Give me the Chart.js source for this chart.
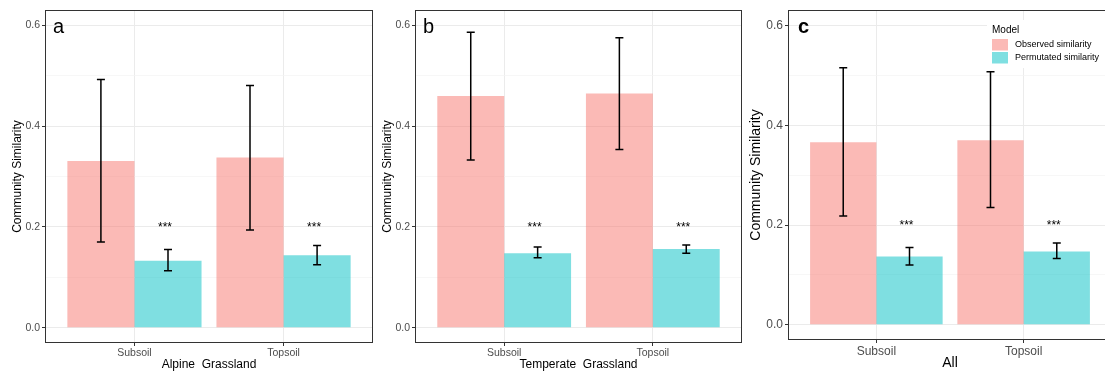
<!DOCTYPE html>
<html>
<head>
<meta charset="utf-8">
<script src="https://cdn.jsdelivr.net/npm/chart.js@4/dist/chart.umd.min.js"></script>
<style>
  body { margin: 0; background: #fff; }
  #wrap { position: relative; width: 1105px; height: 374px; overflow: hidden; }
  .panel { position: absolute; top: 0; }
</style>
</head>
<body>
<div id="wrap">
  <canvas id="pa" class="panel" style="left:0px" width="373" height="374"></canvas>
  <canvas id="pb" class="panel" style="left:370px" width="372" height="374"></canvas>
  <canvas id="pc" class="panel" style="left:740px" width="372" height="374"></canvas>
</div>
<script>
// categories and series
const categories = ['Subsoil', 'Topsoil'];
const seriesNames = ['Observed similarity', 'Permutated similarity'];

// a - Alpine Grassland
const alpineObs = [0.331, 0.338];
const alpineObsLow = [0.170, 0.194];
const alpineObsHigh = [0.493, 0.481];
const alpinePerm = [0.133, 0.144];
const alpinePermLow = [0.113, 0.125];
const alpinePermHigh = [0.155, 0.163];

// b - Temperate Grassland
const temperateObs = [0.460, 0.465];
const temperateObsLow = [0.333, 0.354];
const temperateObsHigh = [0.587, 0.576];
const temperatePerm = [0.148, 0.156];
const temperatePermLow = [0.139, 0.148];
const temperatePermHigh = [0.160, 0.164];

// c - All
const allObs = [0.366, 0.370];
const allObsLow = [0.218, 0.235];
const allObsHigh = [0.515, 0.507];
const allPerm = [0.137, 0.147];
const allPermLow = [0.120, 0.133];
const allPermHigh = [0.155, 0.164];

// significance labels over the permutated bars
const sigLabels = ['***', '***'];
const sigAt = 0.2;

// y axis ticks
const yTickValues = [0, 0.1, 0.2, 0.3, 0.4, 0.5, 0.6];
const yTickLabels = ['0.0', '', '0.2', '', '0.4', '', '0.6'];

Chart.defaults.font.family = '"Liberation Sans", Arial, sans-serif';

const pink = 'rgba(248, 118, 109, 0.5)';
const teal = 'rgba(0, 191, 196, 0.5)';

function isMajor(v) {
  return yTickLabels[yTickValues.indexOf(v)] !== '';
}

// error bars, stars, frame, panel letter and legend
const extras = {
  id: 'extras',
  afterDatasetsDraw(chart, args, opts) {
    const { ctx, chartArea: a, scales: { y } } = chart;
    ctx.save();

    chart.data.datasets.forEach((ds, di) => {
      const meta = chart.getDatasetMeta(di);
      meta.data.forEach((bar, i) => {
        const hi = y.getPixelForValue(ds.errHigh[i]);
        const lo = y.getPixelForValue(ds.errLow[i]);
        ctx.strokeStyle = '#000';
        ctx.lineWidth = 1.5;
        ctx.beginPath();
        ctx.moveTo(bar.x, hi); ctx.lineTo(bar.x, lo);
        ctx.moveTo(bar.x - 4, hi); ctx.lineTo(bar.x + 4, hi);
        ctx.moveTo(bar.x - 4, lo); ctx.lineTo(bar.x + 4, lo);
        ctx.stroke();
        if (ds.stars) {
          ctx.fillStyle = '#000';
          ctx.font = '12px "Liberation Sans", Arial, sans-serif';
          ctx.textAlign = 'center';
          ctx.textBaseline = 'middle';
          ctx.fillText(ds.stars[i], bar.x - 3, y.getPixelForValue(sigAt) + 1);
        }
      });
    });

    // panel frame
    ctx.strokeStyle = '#333';
    ctx.lineWidth = 1;
    ctx.strokeRect(a.left + 0.5, a.top + 0.5, a.width - 1, a.height - 1);

    // panel letter
    ctx.fillStyle = '#000';
    ctx.font = opts.letterFont;
    ctx.textAlign = 'left';
    ctx.textBaseline = 'alphabetic';
    ctx.fillText(opts.letter, a.left + opts.letterDx, 33);

    if (opts.legend) {
      const lx = 252;
      ctx.fillStyle = '#fff';
      ctx.fillRect(247, 20, chart.width - 247, 48);
      ctx.fillStyle = '#000';
      ctx.font = '10px "Liberation Sans", Arial, sans-serif';
      ctx.textBaseline = 'alphabetic';
      ctx.fillText('Model', lx, 32.5);
      ctx.font = '9px "Liberation Sans", Arial, sans-serif';
      ctx.textBaseline = 'middle';
      chart.data.datasets.forEach((ds, di) => {
        const ky = 39 + di * 13;
        ctx.fillStyle = '#fff';
        ctx.fillRect(lx, ky, 16, 11.5);
        ctx.fillStyle = ds.backgroundColor;
        ctx.fillRect(lx, ky, 16, 11.5);
        ctx.fillStyle = '#000';
        ctx.fillText(ds.label, lx + 23, ky + 6);
      });
    }
    ctx.restore();
  }
};

function makePanel(id, p) {
  const pts = arr => arr.map((v, i) => ({ x: i + 1, y: v }));
  new Chart(document.getElementById(id), {
    type: 'bar',
    data: {
      datasets: [
        { label: seriesNames[0], data: pts(p.obs), errLow: p.obsLow, errHigh: p.obsHigh,
          backgroundColor: pink, borderWidth: 0, categoryPercentage: 0.9, barPercentage: 1 },
        { label: seriesNames[1], data: pts(p.perm), errLow: p.permLow, errHigh: p.permHigh, stars: sigLabels,
          backgroundColor: teal, borderWidth: 0, categoryPercentage: 0.9, barPercentage: 1 }
      ]
    },
    options: {
      responsive: false,
      animation: false,
      layout: { padding: { top: 10, left: 0, right: 0, bottom: 0 } },
      plugins: {
        legend: { display: false },
        tooltip: { enabled: false },
        extras: { letter: p.letter, letterDx: p.letterDx, letterFont: p.letterFont, legend: p.legend }
      },
      scales: {
        x: {
          type: 'linear',
          min: 0.4,
          max: 2.6,
          offset: false,
          afterBuildTicks: s => { s.ticks = categories.map((c, i) => ({ value: i + 1 })); },
          afterFit: s => { s.height = p.xh; },
          border: { display: false },
          grid: { offset: false, color: '#ebebeb', lineWidth: 1, tickLength: 3, tickColor: '#333', tickWidth: 1 },
          ticks: {
            callback: v => categories[Math.round(v) - 1],
            color: '#4d4d4d',
            font: { size: p.tickSize },
            padding: 1,
            maxRotation: 0
          },
          title: {
            display: true,
            text: p.xTitle,
            color: '#000',
            font: { size: p.titleSize },
            padding: { top: 0, bottom: 2 }
          }
        },
        y: {
          min: -0.0305,
          max: 0.631,
          afterBuildTicks: s => { s.ticks = yTickValues.map(v => ({ value: v })); },
          afterFit: s => { s.width = p.yw; },
          border: { display: false },
          grid: {
            color: c => isMajor(c.tick.value) ? '#ebebeb' : '#f4f4f4',
            lineWidth: c => isMajor(c.tick.value) ? 1 : 0.7,
            tickLength: 3,
            tickWidth: 1,
            tickColor: c => isMajor(c.tick.value) ? '#333' : 'rgba(0,0,0,0)'
          },
          ticks: {
            callback: v => yTickLabels[yTickValues.indexOf(v)],
            color: '#4d4d4d',
            font: { size: p.tickSize },
            padding: 2
          },
          title: {
            display: true,
            text: 'Community Similarity',
            color: '#000',
            font: { size: p.ySize },
            padding: { top: p.yPad, bottom: 0 }
          }
        }
      }
    },
    plugins: [extras]
  });
}

makePanel('pa', {
  obs: alpineObs, obsLow: alpineObsLow, obsHigh: alpineObsHigh,
  perm: alpinePerm, permLow: alpinePermLow, permHigh: alpinePermHigh,
  xTitle: 'Alpine  Grassland', letter: 'a', letterDx: 8, letterFont: '20px "Liberation Sans", Arial, sans-serif',
  yw: 45, xh: 31, tickSize: 10.5, titleSize: 12, ySize: 12, yPad: 10, legend: false
});

makePanel('pb', {
  obs: temperateObs, obsLow: temperateObsLow, obsHigh: temperateObsHigh,
  perm: temperatePerm, permLow: temperatePermLow, permHigh: temperatePermHigh,
  xTitle: 'Temperate  Grassland', letter: 'b', letterDx: 8, letterFont: '20px "Liberation Sans", Arial, sans-serif',
  yw: 45, xh: 31, tickSize: 10.5, titleSize: 12, ySize: 12, yPad: 10, legend: false
});

makePanel('pc', {
  obs: allObs, obsLow: allObsLow, obsHigh: allObsHigh,
  perm: allPerm, permLow: allPermLow, permHigh: allPermHigh,
  xTitle: 'All', letter: 'c', letterDx: 10, letterFont: 'bold 20px "Liberation Sans", Arial, sans-serif',
  yw: 48, xh: 34, tickSize: 12, titleSize: 14, ySize: 14, yPad: 8, legend: true
});
</script>
</body>
</html>
